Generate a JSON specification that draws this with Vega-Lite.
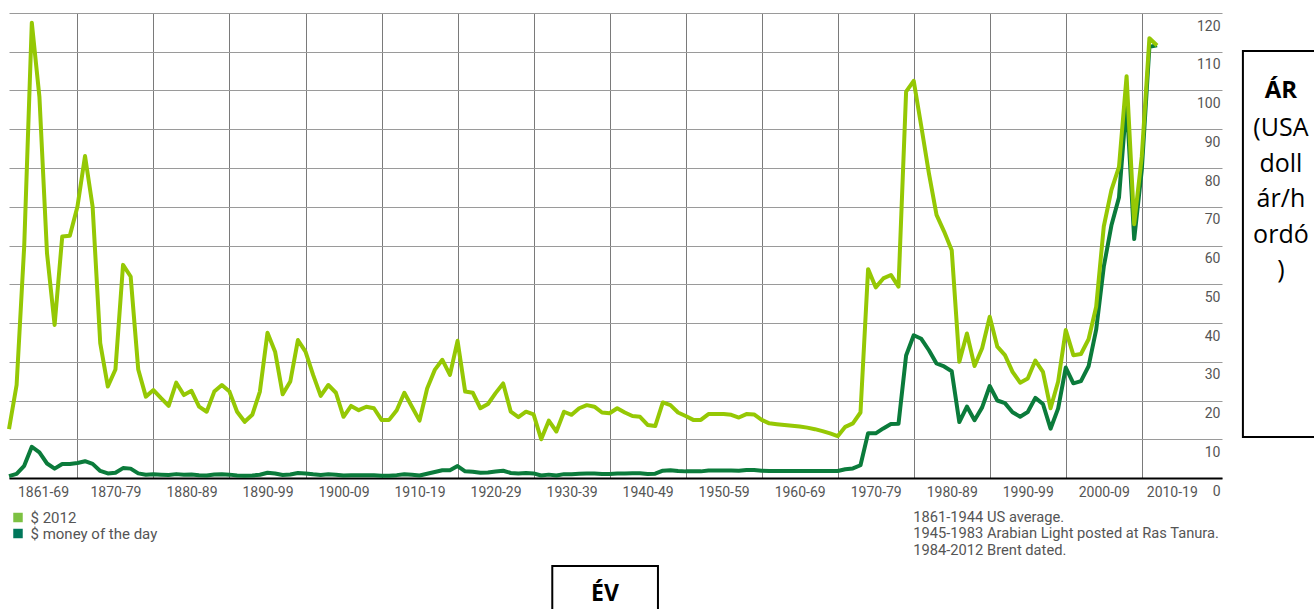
{
  "$schema": "https://vega.github.io/schema/vega-lite/v6.json",
  "width": 1213,
  "height": 465,
  "autosize": {"type": "none"},
  "padding": {"left": 9, "top": 13, "right": 92, "bottom": 131},
  "background": "white",
  "config": {"view": {"stroke": null}, "font": "Roboto"},
  "datasets": {
    "oil": [
      {"year":1861,"real":12.6,"nominal":0.49},{"year":1862,"real":24.0,"nominal":1.05},{"year":1863,"real":59.8,"nominal":3.15},{"year":1864,"real":117.5,"nominal":8.06},{"year":1865,"real":98.4,"nominal":6.59},{"year":1866,"real":58.0,"nominal":3.74},{"year":1867,"real":39.5,"nominal":2.41},{"year":1868,"real":62.3,"nominal":3.63},{"year":1869,"real":62.5,"nominal":3.64},
      {"year":1870,"real":70.0,"nominal":3.86},{"year":1871,"real":83.1,"nominal":4.34},{"year":1872,"real":70.0,"nominal":3.64},{"year":1873,"real":34.8,"nominal":1.83},{"year":1874,"real":23.6,"nominal":1.17},{"year":1875,"real":28.0,"nominal":1.35},{"year":1876,"real":55.0,"nominal":2.56},{"year":1877,"real":52.0,"nominal":2.42},{"year":1878,"real":28.0,"nominal":1.19},{"year":1879,"real":21.0,"nominal":0.86},
      {"year":1880,"real":22.7,"nominal":0.95},{"year":1881,"real":20.6,"nominal":0.86},{"year":1882,"real":18.6,"nominal":0.78},{"year":1883,"real":24.6,"nominal":1.00},{"year":1884,"real":21.4,"nominal":0.84},{"year":1885,"real":22.5,"nominal":0.88},{"year":1886,"real":18.4,"nominal":0.71},{"year":1887,"real":17.1,"nominal":0.67},{"year":1888,"real":22.3,"nominal":0.88},{"year":1889,"real":24.0,"nominal":0.94},
      {"year":1890,"real":22.3,"nominal":0.87},{"year":1891,"real":17.1,"nominal":0.67},{"year":1892,"real":14.5,"nominal":0.56},{"year":1893,"real":16.3,"nominal":0.64},{"year":1894,"real":22.3,"nominal":0.84},{"year":1895,"real":37.5,"nominal":1.36},{"year":1896,"real":32.6,"nominal":1.18},{"year":1897,"real":21.6,"nominal":0.79},{"year":1898,"real":24.9,"nominal":0.91},{"year":1899,"real":35.6,"nominal":1.29},
      {"year":1900,"real":32.6,"nominal":1.19},{"year":1901,"real":26.6,"nominal":0.96},{"year":1902,"real":21.2,"nominal":0.80},{"year":1903,"real":24.0,"nominal":0.94},{"year":1904,"real":22.0,"nominal":0.86},{"year":1905,"real":15.8,"nominal":0.62},{"year":1906,"real":18.6,"nominal":0.73},{"year":1907,"real":17.5,"nominal":0.72},{"year":1908,"real":18.4,"nominal":0.72},{"year":1909,"real":18.0,"nominal":0.70},
      {"year":1910,"real":15.0,"nominal":0.61},{"year":1911,"real":15.0,"nominal":0.61},{"year":1912,"real":17.5,"nominal":0.74},{"year":1913,"real":22.0,"nominal":0.95},{"year":1914,"real":18.4,"nominal":0.81},{"year":1915,"real":14.8,"nominal":0.64},{"year":1916,"real":23.1,"nominal":1.10},{"year":1917,"real":27.9,"nominal":1.56},{"year":1918,"real":30.5,"nominal":1.98},{"year":1919,"real":26.6,"nominal":2.01},
      {"year":1920,"real":35.4,"nominal":3.07},{"year":1921,"real":22.3,"nominal":1.73},{"year":1922,"real":22.0,"nominal":1.61},{"year":1923,"real":18.0,"nominal":1.34},{"year":1924,"real":19.1,"nominal":1.43},{"year":1925,"real":21.9,"nominal":1.68},{"year":1926,"real":24.4,"nominal":1.88},{"year":1927,"real":17.1,"nominal":1.30},{"year":1928,"real":15.7,"nominal":1.17},{"year":1929,"real":17.1,"nominal":1.27},
      {"year":1930,"real":16.4,"nominal":1.19},{"year":1931,"real":10.0,"nominal":0.65},{"year":1932,"real":14.8,"nominal":0.87},{"year":1933,"real":12.0,"nominal":0.67},{"year":1934,"real":17.1,"nominal":1.00},{"year":1935,"real":16.3,"nominal":0.97},{"year":1936,"real":18.0,"nominal":1.09},{"year":1937,"real":18.8,"nominal":1.18},{"year":1938,"real":18.4,"nominal":1.13},{"year":1939,"real":16.9,"nominal":1.02},
      {"year":1940,"real":16.7,"nominal":1.02},{"year":1941,"real":18.0,"nominal":1.14},{"year":1942,"real":16.9,"nominal":1.19},{"year":1943,"real":16.0,"nominal":1.20},{"year":1944,"real":15.8,"nominal":1.21},{"year":1945,"real":13.7,"nominal":1.05},{"year":1946,"real":13.4,"nominal":1.12},{"year":1947,"real":19.5,"nominal":1.90},{"year":1948,"real":18.8,"nominal":1.99},{"year":1949,"real":16.9,"nominal":1.78},
      {"year":1950,"real":16.0,"nominal":1.71},{"year":1951,"real":15.0,"nominal":1.71},{"year":1952,"real":15.0,"nominal":1.71},{"year":1953,"real":16.5,"nominal":1.93},{"year":1954,"real":16.5,"nominal":1.93},{"year":1955,"real":16.5,"nominal":1.93},{"year":1956,"real":16.3,"nominal":1.93},{"year":1957,"real":15.6,"nominal":1.90},{"year":1958,"real":16.5,"nominal":2.08},{"year":1959,"real":16.4,"nominal":2.08},
      {"year":1960,"real":15.0,"nominal":1.90},{"year":1961,"real":14.1,"nominal":1.80},{"year":1962,"real":13.9,"nominal":1.80},{"year":1963,"real":13.7,"nominal":1.80},{"year":1964,"real":13.5,"nominal":1.80},{"year":1965,"real":13.3,"nominal":1.80},{"year":1966,"real":13.0,"nominal":1.80},{"year":1967,"real":12.6,"nominal":1.80},{"year":1968,"real":12.1,"nominal":1.80},{"year":1969,"real":11.5,"nominal":1.80},
      {"year":1970,"real":10.8,"nominal":1.80},{"year":1971,"real":13.2,"nominal":2.24},{"year":1972,"real":14.1,"nominal":2.48},{"year":1973,"real":16.9,"nominal":3.29},{"year":1974,"real":53.9,"nominal":11.58},{"year":1975,"real":49.2,"nominal":11.53},{"year":1976,"real":51.5,"nominal":12.80},{"year":1977,"real":52.4,"nominal":13.92},{"year":1978,"real":49.4,"nominal":14.02},{"year":1979,"real":99.7,"nominal":31.61},
      {"year":1980,"real":102.5,"nominal":36.83},{"year":1981,"real":90.7,"nominal":35.93},{"year":1982,"real":78.6,"nominal":32.97},{"year":1983,"real":67.9,"nominal":29.55},{"year":1984,"real":63.6,"nominal":28.78},{"year":1985,"real":58.8,"nominal":27.56},{"year":1986,"real":30.0,"nominal":14.43},{"year":1987,"real":37.3,"nominal":18.44},{"year":1988,"real":28.9,"nominal":14.92},{"year":1989,"real":33.5,"nominal":18.23},
      {"year":1990,"real":41.6,"nominal":23.73},{"year":1991,"real":33.9,"nominal":20.00},{"year":1992,"real":31.7,"nominal":19.32},{"year":1993,"real":27.4,"nominal":16.97},{"year":1994,"real":24.6,"nominal":15.82},{"year":1995,"real":25.7,"nominal":17.02},{"year":1996,"real":30.3,"nominal":20.67},{"year":1997,"real":27.4,"nominal":19.09},{"year":1998,"real":18.0,"nominal":12.72},{"year":1999,"real":24.9,"nominal":17.97},
      {"year":2000,"real":38.2,"nominal":28.50},{"year":2001,"real":31.7,"nominal":24.44},{"year":2002,"real":32.0,"nominal":25.02},{"year":2003,"real":35.8,"nominal":28.83},{"year":2004,"real":44.2,"nominal":38.27},{"year":2005,"real":64.9,"nominal":54.52},{"year":2006,"real":74.3,"nominal":65.14},{"year":2007,"real":80.3,"nominal":72.39},{"year":2008,"real":103.7,"nominal":97.26},{"year":2009,"real":65.5,"nominal":61.67},
      {"year":2010,"real":83.0,"nominal":79.50},{"year":2011,"real":113.5,"nominal":111.26},{"year":2012,"real":111.6,"nominal":111.67}
    ]
  },
  "layer": [
    {
      "data": {"name": "oil"},
      "transform": [
        {"fold": ["real", "nominal"], "as": ["series", "price"]},
        {"filter": "datum.series == 'nominal'"}
      ],
      "mark": {"type": "line", "strokeWidth": 4, "strokeJoin": "round"},
      "encoding": {
        "x": {
          "field": "year", "type": "quantitative", "title": null,
          "scale": {"domain": [1861, 2020.55], "nice": false, "zero": false},
          "axis": {
            "title": null,
            "values": [1861, 1870, 1880, 1890, 1900, 1910, 1920, 1930, 1940, 1950, 1960, 1970, 1980, 1990, 2000, 2010],
            "tickCount": 40,
            "labelExpr": "datum.value == 1861 ? '1861-69' : datum.value + '-' + slice(toString(datum.value + 9), 2)",
            "labelOffset": {"condition": [{"test": "datum.value == 1861", "value": 34}, {"test": "datum.value == 2010", "value": 30}], "value": 38},
            "grid": true,
            "gridColor": "#7a7a7a",
            "gridWidth": 1,
            "gridOpacity": {"condition": {"test": "datum.value == 1861", "value": 0}, "value": 1},
            "ticks": false,
            "tickSize": 0,
            "domain": true,
            "domainColor": "#000000",
            "domainWidth": 2,
            "labelPadding": 7,
            "labelFont": "Roboto",
            "labelFontSize": 14,
            "labelColor": "#555555",
            "labelFlush": false,
            "labelOverlap": false,
            "labelBound": false,
            "labelAlign": "center"
          }
        },
        "y": {
          "field": "price", "type": "quantitative", "title": null,
          "scale": {"domain": [0, 120], "nice": false, "zero": true},
          "axis": {
            "title": null,
            "orient": "right",
            "values": [0, 10, 20, 30, 40, 50, 60, 70, 80, 90, 100, 110, 120],
            "tickCount": 30,
            "grid": true,
            "gridColor": "#9a9a9a",
            "gridWidth": 1,
            "ticks": false,
            "tickSize": 0,
            "domain": false,
            "labelAlign": "right",
            "labelBaseline": "middle",
            "labelOffset": 13,
            "labelPadding": -2,
            "labelFont": "Roboto",
            "labelFontSize": 14,
            "labelColor": "#555555",
            "labelFlush": false,
            "labelOverlap": false,
            "labelBound": false
          }
        },
        "color": {
          "field": "series", "type": "nominal",
          "scale": {"domain": ["real", "nominal"], "range": ["#95c804", "#0b7b3b"]},
          "legend": {
            "orient": "none",
            "legendX": 1.5,
            "legendY": 497,
            "title": null,
            "padding": 0,
            "symbolType": "square",
            "symbolSize": 90,
            "symbolStrokeWidth": 0,
            "labelFont": "Roboto",
            "labelFontSize": 15,
            "labelColor": "#555555",
            "labelOffset": 5,
            "rowPadding": 0,
            "labelExpr": "datum.label == 'real' ? '$ 2012' : '$ money of the day'",
            "encode": {"symbols": {"update": {"fill": {"signal": "datum.value == 'real' ? '#7dc142' : '#00775b'"}, "stroke": {"value": "transparent"}}}}
          }
        }
      }
    },
    {
      "data": {"name": "oil"},
      "transform": [
        {"fold": ["real", "nominal"], "as": ["series", "price"]},
        {"filter": "datum.series == 'real'"}
      ],
      "mark": {"type": "line", "strokeWidth": 4, "strokeJoin": "round"},
      "encoding": {
        "x": {"field": "year", "type": "quantitative", "title": null},
        "y": {"field": "price", "type": "quantitative", "title": null},
        "color": {"field": "series", "type": "nominal"}
      }
    },
    {
      "data": {"values": [{}]},
      "mark": {"type": "rect", "fill": "transparent", "stroke": "#000000", "strokeWidth": 2},
      "encoding": {
        "x": {"datum": 2023.3, "type": "quantitative", "title": null},
        "x2": {"datum": 2034.5},
        "y": {"datum": 110.2, "type": "quantitative", "title": null},
        "y2": {"datum": 10.6}
      }
    },
    {
      "data": {"values": [{}]},
      "mark": {"type": "text", "text": "ÁR", "font": "Open Sans", "fontWeight": "bold", "fontSize": 24, "color": "#000000", "align": "center", "baseline": "middle"},
      "encoding": {
        "x": {"datum": 2028.3, "type": "quantitative", "title": null},
        "y": {"datum": 100, "type": "quantitative", "title": null}
      }
    },
    {
      "data": {"values": [{}]},
      "mark": {"type": "text", "text": ["(USA", "doll", "ár/h", "ordó", ")"], "lineHeight": 35.6, "font": "Open Sans", "fontSize": 25, "color": "#000000", "align": "center", "baseline": "middle"},
      "encoding": {
        "x": {"datum": 2028.3, "type": "quantitative", "title": null},
        "y": {"datum": 90.3, "type": "quantitative", "title": null}
      }
    },
    {
      "data": {"values": [{}]},
      "mark": {"type": "rect", "fill": "transparent", "stroke": "#000000", "strokeWidth": 2},
      "encoding": {
        "x": {"datum": 1932.46, "type": "quantitative", "title": null},
        "x2": {"datum": 1946.36},
        "y": {"datum": -22.7, "type": "quantitative", "title": null},
        "y2": {"datum": -40}
      }
    },
    {
      "data": {"values": [{}]},
      "mark": {"type": "text", "text": "ÉV", "font": "Open Sans", "fontWeight": "bold", "fontSize": 23, "color": "#000000", "align": "center", "baseline": "alphabetic"},
      "encoding": {
        "x": {"datum": 1939.4, "type": "quantitative", "title": null},
        "y": {"datum": -31.7, "type": "quantitative", "title": null}
      }
    },
    {
      "data": {"values": [{}]},
      "mark": {"type": "text", "text": ["1861-1944 US average.", "1945-1983 Arabian Light posted at Ras Tanura.", "1984-2012  Brent dated."], "lineHeight": 16.5, "font": "Roboto", "fontSize": 14.7, "color": "#555555", "align": "left", "baseline": "middle"},
      "encoding": {
        "x": {"datum": 1979.94, "type": "quantitative", "title": null},
        "y": {"datum": -10.3, "type": "quantitative", "title": null}
      }
    }
  ]
}
